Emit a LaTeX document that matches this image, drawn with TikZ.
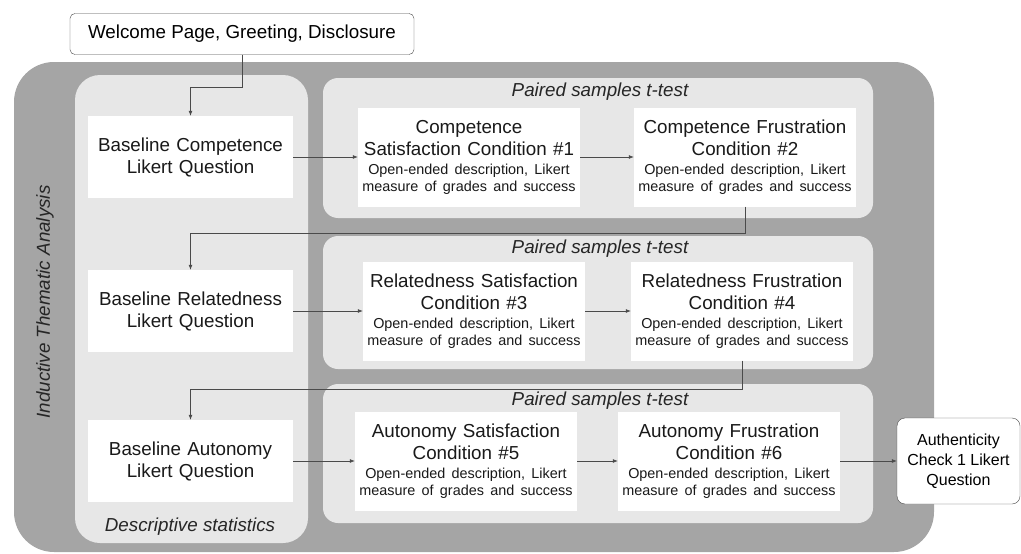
\documentclass[tikz,border=0pt]{standalone}
\usepackage{fontspec}
\setmainfont{Liberation Sans}
\usetikzlibrary{arrows.meta}
\newcommand{\bigfont}{\fontsize{18.8}{22}\selectfont}
\newcommand{\smallfont}{\fontsize{14.4}{17}\selectfont}
\definecolor{bandgray}{HTML}{A5A5A5}
\definecolor{panelgray}{HTML}{E7E7E7}
\definecolor{linegray}{HTML}{4A4A4A}
\begin{document}
\begin{tikzpicture}[x=1pt, y=-1pt,
        box/.style={fill=white, align=center, inner sep=0pt, font=\bigfont, text=black!90},
        cond/.style={box, text width=222pt, minimum height=99pt},
        base/.style={box, text width=205pt, minimum height=82pt},
        conn/.style={draw=linegray, line width=.7pt, -{Latex[length=5pt, width=4pt]}},
        head/.style={font=\bigfont\itshape, text=black!85}]
        \useasboundingbox (0,0) rectangle (1021,554);
        \fill[bandgray, rounded corners=40pt] (14,62) rectangle (934,552);
        \fill[panelgray, rounded corners=25pt] (75,75) rectangle (308,543);
        \foreach \ya/\yb in {78/218, 236/369, 384/523}
        \fill[panelgray, rounded corners=15pt] (323,\ya) rectangle (873,\yb);
        \foreach \y/\n in {92/1, 249/2, 401/3}
        \node[head] (pt\n) at (600,\y) {Paired samples t-test};
        \node[head, rotate=90] (ita) at (45,302) {Inductive Thematic Analysis};
        \node[head] (ds) at (190,527) {Descriptive statistics};
        \node[fill=white, draw=linegray, rounded corners=5pt, font=\bigfont, minimum width=344pt, minimum height=41pt] (wp) at (242,34) {Welcome Page, Greeting, Disclosure};
	\node[base] (bc) at (190.5,157) {Baseline Competence\\Likert Question};
	\node[base] (br) at (190.5,311) {Baseline Relatedness\\Likert Question};
	\node[base] (ba) at (190.5,461) {Baseline Autonomy\\Likert Question};
        \node[cond] (cs) at (469,157) {Competence\\Satisfaction Condition \#1\par\vspace{2pt}\smallfont Open-ended description, Likert\\measure of grades and success\par};
        \node[cond] (cf) at (745,157) {Competence Frustration\\Condition \#2\par\vspace{2pt}\smallfont Open-ended description, Likert\\measure of grades and success\par};
        \node[cond] (rs) at (474,311) {Relatedness Satisfaction\\Condition \#3\par\vspace{2pt}\smallfont Open-ended description, Likert\\measure of grades and success\par};
        \node[cond] (rf) at (742,311) {Relatedness Frustration\\Condition \#4\par\vspace{2pt}\smallfont Open-ended description, Likert\\measure of grades and success\par};
        \node[cond] (as) at (466,461) {Autonomy Satisfaction\\Condition \#5\par\vspace{2pt}\smallfont Open-ended description, Likert\\measure of grades and success\par};
        \node[cond] (af) at (729,461) {Autonomy Frustration\\Condition \#6\par\vspace{2pt}\smallfont Open-ended description, Likert\\measure of grades and success\par};
        \node[fill=white, draw=linegray, rounded corners=8pt, align=center, font=\fontsize{16}{20}\selectfont, minimum width=123pt, minimum height=86pt] (ac) at (958.5,461) {Authenticity\\Check 1 Likert\\Question};
        \draw[conn] (wp.south) -- (wp.south |- 0,87) -| (bc.north);
        \draw[conn] (bc) -- (cs);
        \draw[conn] (cs) -- (cf);
        \draw[conn] (cf.south) -- (cf.south |- 0,233) -| (br.north);
        \draw[conn] (br) -- (rs);
        \draw[conn] (rs) -- (rf);
        \draw[conn] (rf.south) -- (rf.south |- 0,389) -| (ba.north);
        \draw[conn] (ba) -- (as);
        \draw[conn] (as) -- (af);
        \draw[conn] (af) -- (ac);
\end{tikzpicture}
\end{document}
